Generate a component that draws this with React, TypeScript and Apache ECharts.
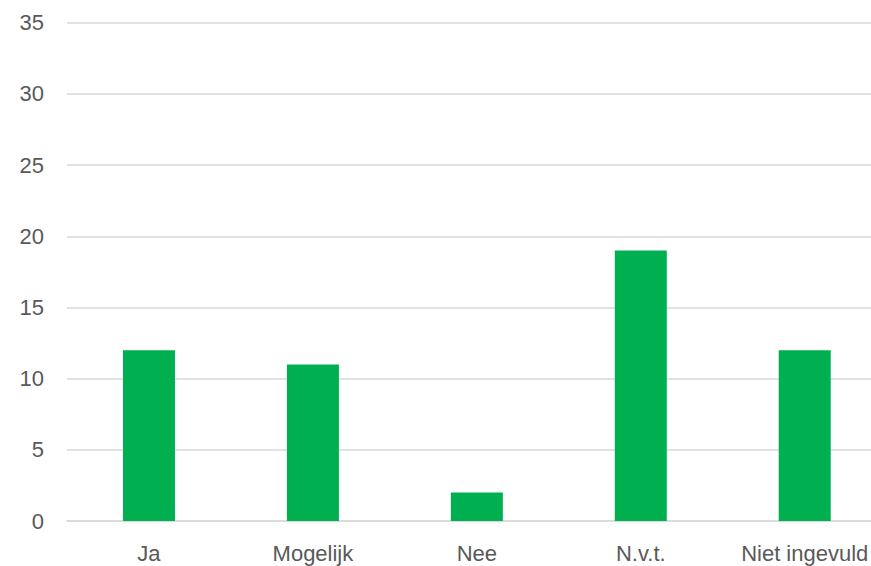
import React, { useEffect, useRef } from "react";
import * as echarts from "echarts";

const categories = ["Ja", "Mogelijk", "Nee", "N.v.t.", "Niet ingevuld"];
const values = [12, 11, 2, 19, 12];
const yMin = 0;
const yMax = 35;
const yInterval = 5;

export default function App() {
  const ref = useRef<HTMLDivElement>(null);
  useEffect(() => {
    if (!ref.current) return;
    const chart = echarts.init(ref.current, null, { renderer: "svg" });
    const font = "'Liberation Sans', Arial, sans-serif";
    chart.setOption({
      animation: false,
      backgroundColor: "#ffffff",
      grid: { left: 67, right: 3.3, top: 22.7, bottom: 45, containLabel: false },
      xAxis: {
        type: "category",
        data: categories,
        axisLine: { show: true, lineStyle: { color: "#D9D9D9", width: 1.5 } },
        axisTick: { show: false },
        axisLabel: { color: "#595959", fontSize: 22, fontFamily: font, margin: 21, interval: 0 },
      },
      yAxis: {
        type: "value",
        min: yMin,
        max: yMax,
        interval: yInterval,
        axisLine: { show: false },
        axisTick: { show: false },
        splitLine: { lineStyle: { color: "#D9D9D9", width: 1.5 } },
        axisLabel: { color: "#595959", fontSize: 22, fontFamily: font, margin: 23 },
      },
      series: [
        {
          type: "bar",
          data: values,
          barWidth: 52,
          itemStyle: { color: "#00B050" },
        },
      ],
    });
    return () => chart.dispose();
  }, []);
  return (
    <div style={{ position: "fixed", left: 0, top: 0, width: 871, height: 566, overflow: "hidden", background: "#fff" }}>
      <div ref={ref} style={{ width: 890, height: 566 }} />
    </div>
  );
}
